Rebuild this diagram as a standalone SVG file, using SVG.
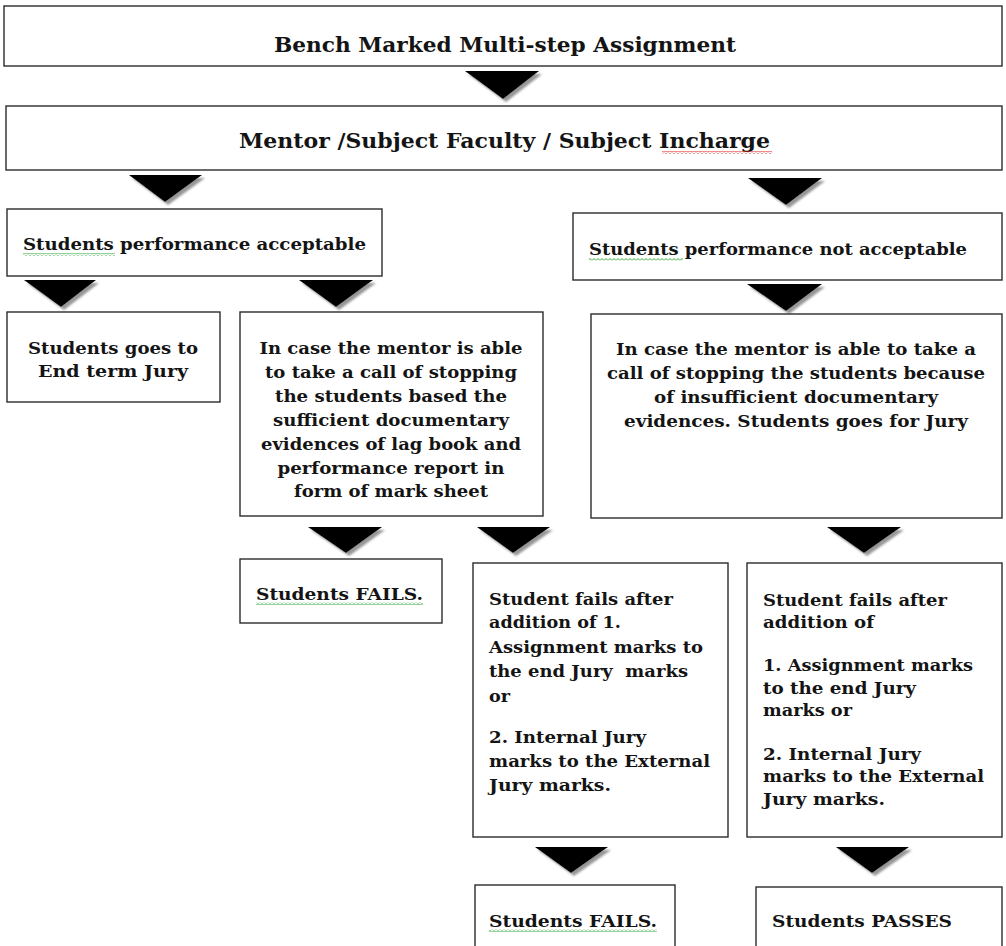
<svg xmlns="http://www.w3.org/2000/svg" width="1006" height="946" viewBox="0 0 1006 946">
<defs>
<style>
.box{fill:#fff;stroke:#2b2b2b;stroke-width:1.4}
.t{font-family:"DejaVu Serif","Liberation Serif",serif;font-weight:bold;font-size:17.5px;fill:#141414}
.title{font-size:20.5px}
.c{text-anchor:middle}
.arr{fill:#000;filter:url(#sh)}
</style>
<filter id="sh" x="-20%" y="-20%" width="150%" height="160%">
<feDropShadow dx="3" dy="3" stdDeviation="1.2" flood-color="#8a8a8a" flood-opacity="0.9"/>
</filter>
<pattern id="sqG" patternUnits="userSpaceOnUse" width="4" height="3">
<path d="M0 2.5L2 0.5L4 2.5" fill="none" stroke="#2ea83a" stroke-width="1"/>
</pattern>
<pattern id="sqR" patternUnits="userSpaceOnUse" width="4" height="3">
<path d="M0 2.5L2 0.5L4 2.5" fill="none" stroke="#e01818" stroke-width="1"/>
</pattern>
</defs>
<rect width="1006" height="946" fill="#fff"/>

<g id="connectors">
<polygon class="arr" points="465,71 539,71 503,99"/>
<polygon class="arr" points="129,175 202,175 165,202"/>
<polygon class="arr" points="748,178 822,178 786,205"/>
<polygon class="arr" points="24,280 96,280 61,307"/>
<polygon class="arr" points="299,280 373,280 336,307"/>
<polygon class="arr" points="747,284 822,284 786,311"/>
<polygon class="arr" points="308,527 382,527 346,553"/>
<polygon class="arr" points="477,527 550,527 513,553"/>
<polygon class="arr" points="827,527 901,527 864,553"/>
<polygon class="arr" points="535,847 608,847 571,873"/>
<polygon class="arr" points="836,847 909,847 872,873"/>
</g>

<g id="n1">
<rect class="box" x="4" y="6" width="998" height="60"/>
<text class="t title c" x="505" y="52" textLength="462" lengthAdjust="spacingAndGlyphs">Bench Marked Multi-step Assignment</text>
</g>

<g id="n2">
<rect class="box" x="6" y="106" width="996" height="64"/>
<text class="t title c" x="504.5" y="148" textLength="531" lengthAdjust="spacingAndGlyphs">Mentor /Subject Faculty / Subject Incharge</text>
<rect x="662" y="151" width="110" height="3" fill="url(#sqR)"/>
</g>

<g id="n3">
<rect class="box" x="7" y="209" width="375" height="67"/>
<text class="t" x="23" y="250" textLength="343" lengthAdjust="spacingAndGlyphs">Students performance acceptable</text>
<rect x="23" y="253" width="92" height="3" fill="url(#sqG)"/>
</g>

<g id="n4">
<rect class="box" x="573" y="213" width="429" height="67"/>
<text class="t" x="589" y="255" textLength="378" lengthAdjust="spacingAndGlyphs">Students performance not acceptable</text>
<rect x="589" y="258" width="94" height="3" fill="url(#sqG)"/>
</g>

<g id="n5">
<rect class="box" x="7" y="312" width="213" height="90"/>
<text class="t c" x="113" y="354" textLength="170" lengthAdjust="spacingAndGlyphs">Students goes to</text>
<text class="t c" x="113" y="377" textLength="150" lengthAdjust="spacingAndGlyphs">End term Jury</text>
</g>

<g id="n6">
<rect class="box" x="240" y="312" width="303" height="204"/>
<text class="t c" x="391" y="354" textLength="263" lengthAdjust="spacingAndGlyphs">In case the mentor is able</text>
<text class="t c" x="391" y="378" textLength="252" lengthAdjust="spacingAndGlyphs">to take a call of stopping</text>
<text class="t c" x="391" y="402" textLength="232" lengthAdjust="spacingAndGlyphs">the students based the</text>
<text class="t c" x="391" y="426" textLength="236" lengthAdjust="spacingAndGlyphs">sufficient documentary</text>
<text class="t c" x="391" y="450" textLength="260" lengthAdjust="spacingAndGlyphs">evidences of lag book and</text>
<text class="t c" x="391" y="474" textLength="227" lengthAdjust="spacingAndGlyphs">performance report in</text>
<text class="t c" x="391" y="497" textLength="194" lengthAdjust="spacingAndGlyphs">form of mark sheet</text>
</g>

<g id="n7">
<rect class="box" x="591" y="314" width="411" height="204"/>
<text class="t c" x="796" y="355" textLength="360" lengthAdjust="spacingAndGlyphs">In case the mentor is able to take a</text>
<text class="t c" x="796" y="379" textLength="378" lengthAdjust="spacingAndGlyphs">call of stopping the students because</text>
<text class="t c" x="796" y="403" textLength="284" lengthAdjust="spacingAndGlyphs">of insufficient documentary</text>
<text class="t c" x="796" y="427" textLength="344" lengthAdjust="spacingAndGlyphs">evidences. Students goes for Jury</text>
</g>

<g id="n8">
<rect class="box" x="240" y="559" width="202" height="64"/>
<text class="t" x="256" y="600" textLength="167" lengthAdjust="spacingAndGlyphs">Students FAILS.</text>
<rect x="256" y="602" width="167" height="3" fill="url(#sqG)"/>
</g>

<g id="n9">
<rect class="box" x="473" y="563" width="255" height="274"/>
<text class="t" x="489" y="605" textLength="184" lengthAdjust="spacingAndGlyphs">Student fails after</text>
<text class="t" x="489" y="628" textLength="132" lengthAdjust="spacingAndGlyphs">addition of 1.</text>
<text class="t" x="489" y="653" textLength="214" lengthAdjust="spacingAndGlyphs">Assignment marks to</text>
<text class="t" x="489" y="677" textLength="199" lengthAdjust="spacingAndGlyphs" xml:space="preserve">the end Jury  marks</text>
<text class="t" x="489" y="702" textLength="21" lengthAdjust="spacingAndGlyphs">or</text>
<text class="t" x="489" y="743" textLength="157" lengthAdjust="spacingAndGlyphs">2. Internal Jury</text>
<text class="t" x="489" y="767" textLength="221" lengthAdjust="spacingAndGlyphs">marks to the External</text>
<text class="t" x="489" y="791" textLength="122" lengthAdjust="spacingAndGlyphs">Jury marks.</text>
</g>

<g id="n10">
<rect class="box" x="747" y="563" width="255" height="274"/>
<text class="t" x="763" y="606" textLength="184" lengthAdjust="spacingAndGlyphs">Student fails after</text>
<text class="t" x="763" y="628" textLength="111" lengthAdjust="spacingAndGlyphs">addition of</text>
<text class="t" x="763" y="671" textLength="210" lengthAdjust="spacingAndGlyphs">1. Assignment marks</text>
<text class="t" x="763" y="694" textLength="153" lengthAdjust="spacingAndGlyphs">to the end Jury</text>
<text class="t" x="763" y="716" textLength="89" lengthAdjust="spacingAndGlyphs">marks or</text>
<text class="t" x="763" y="760" textLength="158" lengthAdjust="spacingAndGlyphs">2. Internal Jury</text>
<text class="t" x="763" y="782" textLength="221" lengthAdjust="spacingAndGlyphs">marks to the External</text>
<text class="t" x="763" y="805" textLength="122" lengthAdjust="spacingAndGlyphs">Jury marks.</text>
</g>

<g id="n11">
<rect class="box" x="475" y="885" width="200" height="70"/>
<text class="t" x="489" y="927" textLength="168" lengthAdjust="spacingAndGlyphs">Students FAILS.</text>
<rect x="489" y="929" width="168" height="3" fill="url(#sqG)"/>
</g>

<g id="n12">
<rect class="box" x="756" y="887" width="246" height="70"/>
<text class="t" x="772" y="927" textLength="180" lengthAdjust="spacingAndGlyphs">Students PASSES</text>
</g>
</svg>
